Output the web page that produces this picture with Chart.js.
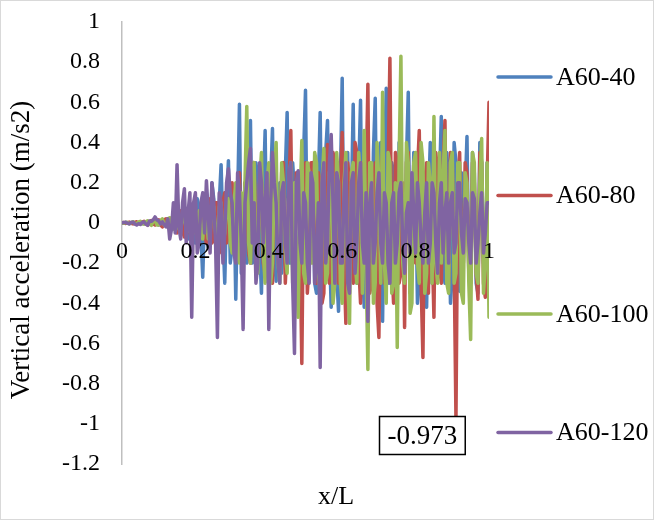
<!DOCTYPE html>
<html>
<head>
<meta charset="utf-8">
<script src="https://cdn.jsdelivr.net/npm/chart.js@4.4.1/dist/chart.umd.min.js"></script>
<style>
  html, body { margin: 0; padding: 0; background: #fff; }
  #wrap { position: relative; width: 654px; height: 520px; }
</style>
</head>
<body>
<div id="wrap"><canvas id="acc" width="654" height="520"></canvas></div>
<script>
// stations along the span, x/L
const stations = [
  0, 0.005, 0.01, 0.015, 0.02, 0.025, 0.03, 0.035, 0.04, 0.045, 0.05, 0.055, 0.06, 0.065, 0.07, 0.075, 0.08, 0.085, 0.09, 0.095,
  0.1, 0.105, 0.11, 0.115, 0.12, 0.125, 0.13, 0.135, 0.14, 0.145, 0.15, 0.155, 0.16, 0.165, 0.17, 0.175, 0.18, 0.185, 0.19, 0.195,
  0.2, 0.205, 0.21, 0.215, 0.22, 0.225, 0.23, 0.235, 0.24, 0.245, 0.25, 0.255, 0.26, 0.265, 0.27, 0.275, 0.28, 0.285, 0.29, 0.295,
  0.3, 0.305, 0.31, 0.315, 0.32, 0.325, 0.33, 0.335, 0.34, 0.345, 0.35, 0.355, 0.36, 0.365, 0.37, 0.375, 0.38, 0.385, 0.39, 0.395,
  0.4, 0.405, 0.41, 0.415, 0.42, 0.425, 0.43, 0.435, 0.44, 0.445, 0.45, 0.455, 0.46, 0.465, 0.47, 0.475, 0.48, 0.485, 0.49, 0.495,
  0.5, 0.505, 0.51, 0.515, 0.52, 0.525, 0.53, 0.535, 0.54, 0.545, 0.55, 0.555, 0.56, 0.565, 0.57, 0.575, 0.58, 0.585, 0.59, 0.595,
  0.6, 0.605, 0.61, 0.615, 0.62, 0.625, 0.63, 0.635, 0.64, 0.645, 0.65, 0.655, 0.66, 0.665, 0.67, 0.675, 0.68, 0.685, 0.69, 0.695,
  0.7, 0.705, 0.71, 0.715, 0.72, 0.725, 0.73, 0.735, 0.74, 0.745, 0.75, 0.755, 0.76, 0.765, 0.77, 0.775, 0.78, 0.785, 0.79, 0.795,
  0.8, 0.805, 0.81, 0.815, 0.82, 0.825, 0.83, 0.835, 0.84, 0.845, 0.85, 0.855, 0.86, 0.865, 0.87, 0.875, 0.88, 0.885, 0.89, 0.895,
  0.9, 0.905, 0.91, 0.915, 0.92, 0.925, 0.93, 0.935, 0.94, 0.945, 0.95, 0.955, 0.96, 0.965, 0.97, 0.975, 0.98, 0.985, 0.99, 0.995,
  1
];

const a60_40 = [
  0, -0.002, 0.002, 0.001, -0.004, 0.002, 0.003, -0.003, -0.006, 0.001, 0.005, -0.002, -0.004, 0.003, 0.006, -0.004, -0.008, 0.004, 0.01, -0.005,
  -0.01, 0.008, 0.012, -0.01, -0.015, 0.01, 0.02, -0.02, -0.03, 0.01, 0.04, -0.03, -0.05, 0.02, 0.06, -0.06, -0.08, 0.03, 0.05, -0.06,
  -0.1, 0.12, 0.08, -0.05, -0.27, 0.05, 0.15, -0.12, -0.1, 0.2, 0.12, -0.1, -0.2, 0.1, 0.29, -0.05, -0.3, 0.1, 0.31, -0.2,
  -0.12, 0.15, -0.38, 0.1, 0.59, -0.25, -0.1, 0.2, -0.2, 0.1, 0.51, -0.2, -0.15, 0.3, 0.2, -0.1, -0.35, 0.15, 0.46, -0.25,
  -0.1, 0.2, 0.47, -0.15, -0.29, 0.1, 0.2, -0.25, -0.1, 0.25, 0.55, -0.2, -0.2, 0.3, 0.15, -0.3, -0.3, 0.1, -0.15, 0.35,
  0.66, -0.25, -0.2, 0.25, 0.3, -0.3, -0.35, 0.2, 0.55, -0.2, -0.1, 0.35, 0.51, -0.1, -0.42, 0.3, 0.2, -0.25, -0.44, 0.2,
  0.72, -0.3, -0.1, 0.35, -0.2, 0.1, 0.59, -0.15, -0.3, 0.25, 0.61, -0.2, -0.42, 0.3, 0.2, -0.3, -0.3, 0.35, 0.62, -0.25,
  -0.2, 0.4, -0.49, 0.2, 0.67, -0.3, -0.2, 0.3, 0.25, -0.35, -0.3, 0.4, 0.1, -0.2, -0.25, 0.3, 0.65, -0.3, -0.2, 0.35,
  0.25, -0.4, -0.3, 0.3, 0.2, -0.25, -0.42, 0.1, 0.4, -0.3, -0.2, 0.3, -0.25, 0.2, 0.53, -0.2, -0.3, 0.35, 0.2, -0.4,
  -0.25, 0.4, 0.3, -0.2, -0.34, 0.25, -0.2, 0.15, 0.43, -0.25, -0.3, 0.35, 0.25, -0.3, -0.35, 0.4, 0.3, -0.2, -0.25, 0.3,
  0.1
];

const a60_80 = [
  0, 0.002, -0.003, 0.001, 0.004, -0.002, -0.005, 0.003, 0.006, -0.002, -0.004, 0.004, 0.008, -0.005, -0.01, 0.006, 0.012, -0.004, -0.01, 0.008,
  0.015, -0.01, -0.02, 0.015, 0.02, -0.01, -0.03, 0.02, 0.04, -0.03, -0.05, 0.04, 0.06, -0.04, -0.07, 0.03, 0.05, -0.05, -0.06, 0.05,
  0.04, -0.05, -0.06, 0.07, 0.08, -0.06, -0.1, 0.05, 0.12, -0.1, -0.08, 0.1, 0.1, -0.15, -0.12, 0.1, 0.15, -0.1, -0.05, 0.12,
  0.2, -0.1, -0.15, 0.15, 0.25, -0.2, -0.1, 0.2, 0.15, -0.15, -0.2, 0.25, 0.3, -0.1, -0.15, 0.2, 0.2, -0.2, -0.25, 0.15,
  0.25, -0.2, -0.3, 0.2, 0.2, -0.15, -0.2, 0.25, 0.3, -0.3, -0.1, 0.2, 0.46, -0.2, -0.3, 0.25, 0.2, -0.1, -0.7, 0.2,
  0.3, -0.35, -0.2, 0.3, 0.3, -0.2, -0.3, 0.25, 0.2, -0.4, -0.35, 0.15, 0.39, -0.3, -0.2, 0.35, 0.3, -0.25, -0.3, 0.2,
  0.45, -0.2, -0.5, 0.3, 0.2, -0.25, -0.3, 0.4, 0.35, -0.2, -0.4, 0.3, -0.2, 0.2, 0.69, -0.35, -0.3, 0.2, 0.3, -0.4,
  -0.57, 0.2, 0.35, -0.3, -0.3, 0.25, 0.82, -0.2, -0.4, 0.35, 0.3, -0.3, -0.25, 0.2, -0.52, 0.3, 0.35, -0.35, -0.2, 0.3,
  -0.2, 0.25, 0.46, -0.3, -0.67, 0.2, 0.3, -0.35, 0.2, -0.1, -0.47, 0.35, 0.25, -0.2, -0.3, 0.3, 0.51, -0.25, -0.3, 0.35,
  0.3, -0.2, -0.973, 0.2, 0.35, -0.3, -0.2, 0.3, 0.25, -0.25, -0.3, 0.3, 0.2, -0.25, -0.38, 0.35, 0.3, -0.3, -0.37, 0.2,
  0.6
];

const a60_100 = [
  0, -0.002, 0.003, 0.002, -0.004, 0.001, 0.006, -0.003, -0.005, 0.004, 0.008, -0.004, -0.006, 0.005, 0.01, -0.006, -0.012, 0.008, 0.015, -0.01,
  -0.01, 0.012, 0.02, -0.01, -0.015, 0.02, 0.025, -0.02, -0.03, -0.01, 0.02, -0.03, -0.02, 0.02, 0.03, -0.03, -0.04, 0.03, 0.05, -0.03,
  -0.05, 0.04, 0.06, -0.05, -0.08, 0.06, 0.05, -0.08, -0.06, 0.1, 0.08, -0.05, -0.1, 0.08, 0.1, -0.1, -0.05, 0.08, 0.12, -0.1,
  -0.15, 0.1, 0.2, -0.15, -0.2, 0.15, -0.1, 0.2, 0.58, -0.1, -0.2, 0.25, 0.3, -0.2, -0.25, 0.2, 0.35, -0.15, -0.3, 0.2,
  0.3, -0.3, -0.2, 0.25, 0.4, -0.2, -0.3, 0.3, 0.2, -0.15, -0.25, 0.2, 0.3, -0.3, 0.2, -0.2, -0.47, 0.1, 0.41, -0.25,
  -0.3, 0.3, 0.25, -0.2, -0.2, 0.35, 0.3, -0.25, -0.35, 0.2, 0.37, -0.3, -0.25, 0.25, 0.3, -0.4, -0.3, 0.35, 0.2, -0.3,
  -0.4, 0.2, 0.35, -0.3, -0.5, 0.25, 0.3, -0.2, -0.3, 0.35, 0.2, -0.35, 0.46, -0.2, -0.73, 0.3, 0.3, -0.4, -0.3, 0.4,
  0.2, -0.3, 0.65, -0.2, -0.4, 0.35, 0.3, -0.35, -0.3, 0.2, -0.62, 0.3, 0.83, -0.2, -0.3, 0.4, 0.3, -0.45, -0.4, 0.3,
  0.35, -0.2, -0.3, 0.4, 0.3, -0.35, -0.25, 0.3, 0.2, -0.3, 0.53, -0.2, -0.3, 0.35, -0.2, 0.25, 0.46, -0.3, -0.35, 0.3,
  0.35, -0.3, -0.25, 0.3, 0.3, -0.35, -0.4, 0.25, 0.2, -0.3, -0.58, 0.35, 0.3, -0.25, -0.3, 0.2, 0.42, -0.35, -0.2, 0.3,
  -0.47
];

const a60_120 = [
  0, 0.002, 0.003, -0.002, -0.004, 0.002, 0.004, -0.005, -0.01, -0.004, -0.008, 0.002, 0.005, -0.006, -0.012, 0.01, 0.008, 0.015, 0.03, 0.015,
  0.01, -0.005, 0.005, -0.01, -0.02, 0.02, -0.08, -0.03, 0.1, -0.05, 0.29, -0.02, -0.08, 0.1, 0.17, -0.1, 0.05, 0.15, -0.47, 0.1,
  0.15, -0.15, -0.1, 0.1, 0.15, -0.05, 0.21, 0.05, -0.15, 0.2, 0.1, -0.1, -0.57, 0.15, 0.1, -0.2, -0.05, 0.2, 0.27, 0.15,
  0.1, -0.15, -0.2, 0.25, 0.15, -0.1, -0.53, 0.1, 0.2, 0.3, 0.37, -0.1, 0.1, -0.3, -0.2, 0.3, 0.2, -0.1, 0.1, 0.25,
  -0.53, 0.1, 0.35, 0.2, 0.1, -0.2, -0.3, 0.15, 0.2, -0.1, -0.2, 0.25, 0.3, -0.3, -0.65, 0.2, 0.26, -0.1, -0.2, 0.15,
  0.1, -0.2, -0.3, 0.25, 0.2, -0.3, -0.2, 0.1, -0.72, 0.2, 0.3, -0.2, -0.1, 0.3, 0.44, 0.1, -0.3, 0.25, 0.2, -0.2,
  -0.2, 0.15, 0.3, -0.3, -0.35, 0.2, 0.25, -0.25, -0.1, 0.2, 0.3, -0.1, -0.2, 0.15, -0.49, 0.1, 0.2, -0.2, -0.1, 0.15,
  0.25, -0.1, -0.2, 0.15, 0.1, -0.2, -0.3, 0.1, 0.15, -0.2, -0.1, 0.15, 0.2, -0.1, -0.25, 0.05, 0.1, -0.15, 0.25, 0.05,
  -0.15, 0.2, 0.1, -0.1, -0.2, 0.05, 0.2, -0.2, -0.1, 0.2, 0.15, -0.1, -0.25, 0.1, 0.2, -0.15, 0.05, 0.15, -0.2, 0.1,
  0.15, -0.15, -0.1, 0.2, 0.2, -0.05, -0.15, 0.12, 0.1, -0.1, -0.2, 0.15, 0.12, -0.2, -0.1, 0.05, 0.15, -0.15, -0.05, 0.1,
  0.1
];

const seriesNames = ['A60-40', 'A60-80', 'A60-100', 'A60-120'];
const seriesColors = ['#4F81BD', '#C0504D', '#9BBB59', '#8064A2'];
const xTicks = [0, 0.2, 0.4, 0.6, 0.8, 1];
const yTicks = [1, 0.8, 0.6, 0.4, 0.2, 0, -0.2, -0.4, -0.6, -0.8, -1, -1.2];

const FONT = '"Liberation Serif", "Times New Roman", serif';
const fmt = v => String(Math.round(v * 10) / 10);

// frame, axis titles, legend and the min-value callout
const decor = {
  id: 'decor',
  beforeDraw(chart) {
    const c = chart.ctx;
    c.save();
    c.fillStyle = '#fff';
    c.fillRect(0, 0, chart.width, chart.height);
    c.restore();
  },
  afterDraw(chart) {
    const c = chart.ctx;
    const area = chart.chartArea;
    c.save();

    c.strokeStyle = '#d9d9d9';
    c.lineWidth = 1;
    c.strokeRect(0.5, 0.5, chart.width - 1, chart.height - 1);

    c.fillStyle = '#000';
    c.font = '26px ' + FONT;
    c.textAlign = 'center';
    c.textBaseline = 'middle';
    c.fillText('x/L', 336, 497);

    c.save();
    c.font = '27px ' + FONT;
    c.translate(22, 250);
    c.rotate(-Math.PI / 2);
    c.fillText('Vertical acceleration (m/s2)', 0, 0);
    c.restore();

    // legend
    c.textAlign = 'left';
    chart.data.datasets.forEach((ds, i) => {
      const y = area.top + 55 + i * 118.5;
      c.strokeStyle = ds.borderColor;
      c.lineWidth = 3.5;
      c.lineCap = 'round';
      c.beginPath();
      c.moveTo(498, y);
      c.lineTo(551, y);
      c.stroke();
      c.fillStyle = '#000';
      c.fillText(ds.label, 556, y + 1);
    });

    // callout on the deepest A60-80 point
    c.font = '27px ' + FONT;
    const data = chart.data.datasets[1].data;
    let k = 0;
    data.forEach((v, j) => { if (v < data[k]) k = j; });
    const p = chart.getDatasetMeta(1).data[k];
    const txt = String(data[k]);
    const tw = c.measureText(txt).width;
    const bw = tw + 16, bh = 38;
    const bx = Math.round(p.x - 34 - bw / 2) + 0.5;
    const by = Math.round(p.y) - 1.5;
    c.fillStyle = '#fff';
    c.fillRect(bx, by, bw, bh);
    c.strokeStyle = '#000';
    c.lineWidth = 1.5;
    c.strokeRect(bx, by, bw, bh);
    c.fillStyle = '#000';
    c.textAlign = 'center';
    c.fillText(txt, bx + bw / 2, by + bh / 2 + 1);

    c.restore();
  }
};

const seriesData = [a60_40, a60_80, a60_100, a60_120];

new Chart(document.getElementById('acc'), {
  type: 'line',
  data: {
    labels: stations,
    datasets: seriesData.map((d, i) => ({
      label: seriesNames[i],
      data: d,
      borderColor: seriesColors[i],
      backgroundColor: seriesColors[i],
      borderWidth: 3.5,
      borderCapStyle: 'round',
      borderJoinStyle: 'round',
      pointRadius: 0,
      tension: 0,
      fill: false,
      order: seriesData.length - i
    }))
  },
  options: {
    responsive: false,
    animation: false,
    layout: { padding: { left: 0, top: 22, right: 165, bottom: 56 } },
    plugins: { legend: { display: false }, tooltip: { enabled: false } },
    scales: {
      x: {
        type: 'linear',
        position: { y: 0 },
        min: 0, max: 1,
        afterBuildTicks: s => { s.ticks = xTicks.map(v => ({ value: v })); },
        afterFit: s => { s.height = 0; s.paddingTop = 0; s.paddingBottom = 0; },
        // labels sit on top of the traces
        ticks: { z: 1, callback: v => fmt(v), color: '#000', font: { family: FONT, size: 24 }, padding: 14, maxRotation: 0 },
        grid: { display: false, drawTicks: false },
        border: { display: false }
      },
      y: {
        type: 'linear',
        min: -1.2, max: 1,
        afterBuildTicks: s => { s.ticks = yTicks.map(v => ({ value: v })); },
        afterFit: s => { s.width = 122; s.paddingTop = 0; s.paddingBottom = 0; },
        ticks: { callback: v => fmt(v), color: '#000', font: { family: FONT, size: 24 }, padding: 22 },
        grid: { display: false, drawTicks: false },
        border: { display: true, color: '#bfbfbf', width: 1.5 }
      }
    }
  },
  plugins: [decor]
});
</script>
</body>
</html>
